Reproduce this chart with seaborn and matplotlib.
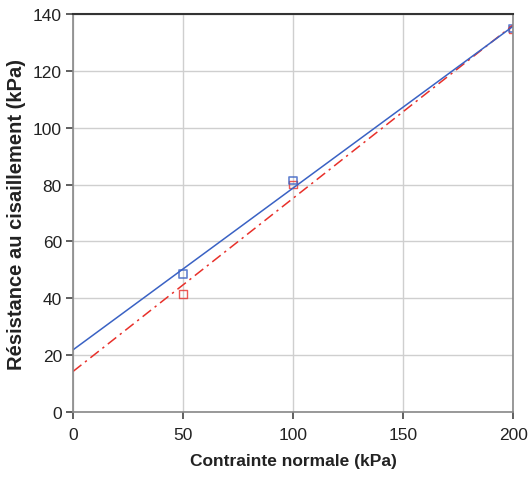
import matplotlib
matplotlib.use("Agg")
import matplotlib.pyplot as plt
import seaborn as sns
import pandas as pd

sns.set_style("white")
plt.rcParams['font.family'] = ['Liberation Sans', 'DejaVu Sans']

# Data
contrainte = [50, 100, 200]
resistance_bleu = [48.5, 81.5, 134.8]
resistance_rouge = [41.5, 80.0, 134.5]
x_ticks = [0, 50, 100, 150, 200]
y_ticks = [0, 20, 40, 60, 80, 100, 120, 140]
x_label = "Contrainte normale (kPa)"
y_label = "Résistance au cisaillement (kPa)"

df_b = pd.DataFrame({"x": contrainte, "y": resistance_bleu})
df_r = pd.DataFrame({"x": contrainte, "y": resistance_rouge})

blue = "#3a62c4"
red = "#e8302a"

fig = plt.figure(figsize=(5.29, 4.85), dpi=100)
ax = fig.add_axes([0.138, 0.1485, 0.832, 0.8205])
ax.set_xlim(0, 200)
ax.set_ylim(0, 140)

sns.regplot(data=df_r, x="x", y="y", ax=ax, ci=None, truncate=False, marker="s",
            scatter_kws=dict(s=28, facecolors="none", edgecolors=red, linewidths=1.0),
            line_kws=dict(color=red, lw=1.1, linestyle=(0, (7, 3, 1.5, 3))))
sns.regplot(data=df_b, x="x", y="y", ax=ax, ci=None, truncate=False, marker="s",
            scatter_kws=dict(s=28, facecolors="none", edgecolors=blue, linewidths=1.2),
            line_kws=dict(color=blue, lw=1.1))

ax.set_xlim(0, 200)
ax.set_ylim(0, 140)
ax.set_xticks(x_ticks)
ax.set_yticks(y_ticks)
ax.grid(True, color="#cfcfcf", lw=1.0)
ax.set_axisbelow(True)

for s in ["left", "right", "bottom"]:
    ax.spines[s].set_color("#888888")
    ax.spines[s].set_linewidth(1.2)
ax.spines["top"].set_color("#333333")
ax.spines["top"].set_linewidth(1.5)

ax.tick_params(axis="both", direction="out", length=5, width=1.2, color="#444444",
               labelsize=12.5, labelcolor="#222222", pad=3, bottom=True, left=True)
ax.tick_params(axis="x", pad=6)

ax.set_xlabel(x_label, fontsize=12.5, fontweight="bold", color="#222222", labelpad=8)
ax.set_ylabel(y_label, fontsize=14.5, fontweight="bold", color="#222222", labelpad=5)

fig.savefig("out.png", dpi=100, facecolor="white")
